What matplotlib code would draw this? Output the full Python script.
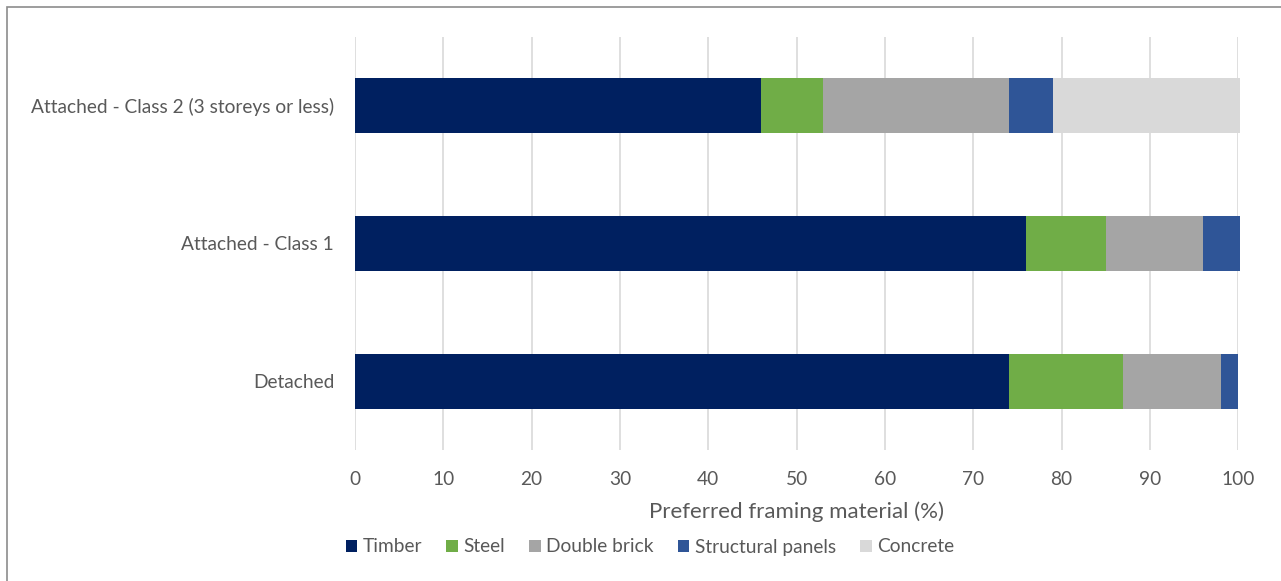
import matplotlib.pyplot as plt
from matplotlib.patches import Rectangle

# Housing types (bottom to top) and share of each framing material (%)
categories = ["Detached", "Attached - Class 1", "Attached - Class 2 (3 storeys or less)"]
materials = ["Timber", "Steel", "Double brick", "Structural panels", "Concrete"]
timber = [74, 76, 46]
steel = [13, 9, 7]
double_brick = [11, 11, 21]
structural_panels = [2, 4.2, 5]
concrete = [0, 0, 21.2]
colors = ["#002060", "#70AD47", "#A5A5A5", "#2F5597", "#D9D9D9"]

text_col = "#595959"
plt.rcParams['font.family'] = ['Lato', 'DejaVu Sans']

fig = plt.figure(figsize=(12.81, 5.81), dpi=100)
W, H = 1281, 581
ax = fig.add_axes([355 / W, 1 - 450 / H, (1238.3 - 355) / W, (450 - 37) / H])

series = [timber, steel, double_brick, structural_panels, concrete]
left = [0] * len(categories)
for name, vals, col in zip(materials, series, colors):
    ax.barh(range(len(categories)), vals, left=left, height=0.4, color=col,
            label=name, zorder=3, clip_on=False)
    left = [a + b for a, b in zip(left, vals)]

ax.set_xlim(0, 100)
ax.set_ylim(-0.5, 2.5)
ax.set_xticks(range(0, 101, 10))
ax.set_yticks(range(len(categories)))
ax.set_yticklabels(categories)
ax.grid(axis='x', color='#D9D9D9', linewidth=1.2, zorder=0)
ax.tick_params(length=0, labelsize=13.8, colors=text_col)
ax.tick_params(axis='x', pad=15)
ax.tick_params(axis='y', pad=15)
for s in ax.spines.values():
    s.set_visible(False)
ax.set_xlabel("Preferred framing material (%)", fontsize=16, color=text_col, labelpad=10)

fig.legend(loc='center', bbox_to_anchor=(650 / W, 1 - 547 / H), ncol=5,
           frameon=False, fontsize=13.8, handlelength=0.6, handleheight=0.6,
           handletextpad=0.3, columnspacing=1.25, labelcolor=text_col)

# Chart frame
fig.add_artist(Rectangle((7 / W, -0.01), 1.02 - 7 / W, 1 - 7 / H + 0.01,
                         transform=fig.transFigure, fill=False,
                         edgecolor='#8C8C8C', linewidth=1.2))

fig.savefig("out.png", dpi=100)
